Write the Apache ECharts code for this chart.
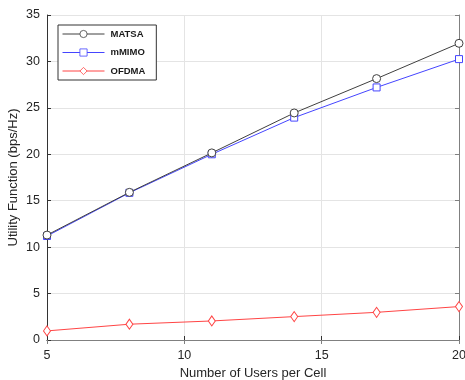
<!DOCTYPE html>
<html>
<head>
<meta charset="utf-8">
<script src="https://cdn.jsdelivr.net/npm/echarts@6/dist/echarts.min.js"></script>
<style>
  html, body { margin: 0; padding: 0; background: #fff; }
  #chart { width: 465px; height: 380px; }
</style>
</head>
<body>
<div id="chart"></div>
<script>
// Users per cell (x positions of the samples)
var users = [5, 8, 11, 14, 17, 20];
// Utility function values (bps/Hz)
var matsa = [11.3, 15.9, 20.15, 24.45, 28.15, 31.95];
var mmimo = [11.2, 15.85, 20.0, 23.95, 27.2, 30.25];
var ofdma = [0.98, 1.7, 2.05, 2.52, 2.98, 3.6];

var seriesNames = ['MATSA', 'mMIMO', 'OFDMA'];
var seriesColors = ['#404040', '#4545ff', '#ff4545'];
// hollow markers: white fill with a thin coloured outline
var seriesSymbols = ['circle', 'rect', 'diamond'];
var seriesSizes = [8, 7, [7, 10]];
var seriesData = [matsa, mmimo, ofdma];

var xTicks = { min: 5, max: 20, interval: 5 };
var yTicks = { min: 0, max: 35, interval: 5 };

var font = 'Liberation Sans, Arial, sans-serif';
var axisDark = '#333333';
var axisLight = '#808080';

function pairs(xs, ys) {
  return xs.map(function (x, i) { return [x, ys[i]]; });
}

var chart = echarts.init(document.getElementById('chart'), null, { renderer: 'canvas' });

var option = {
  animation: false,
  backgroundColor: '#ffffff',
  textStyle: { fontFamily: font },
  grid: { left: 47, right: 6, top: 15, bottom: 40, containLabel: false, outerBoundsMode: 'none' },
  legend: {
    orient: 'vertical',
    left: 58,
    top: 25,
    data: seriesNames,
    itemWidth: 42,
    itemHeight: 9,
    itemGap: 8.5,
    padding: [4, 11, 4, 4],
    borderColor: '#333333',
    borderWidth: 1,
    backgroundColor: '#ffffff',
    itemStyle: { borderWidth: 0.8 },
    lineStyle: { width: 1 },
    textStyle: { fontFamily: font, fontSize: 9.5, fontWeight: 'bold', color: '#1a1a1a', padding: [0, 0, 0, 1] }
  },
  xAxis: [{
    type: 'value',
    position: 'bottom',
    min: xTicks.min, max: xTicks.max, interval: xTicks.interval,
    name: 'Number of Users per Cell',
    nameLocation: 'middle',
    nameGap: 27,
    nameMoveOverlap: false,
    nameTextStyle: { fontFamily: font, fontSize: 13, color: '#262626' },
    axisLine: { show: true, lineStyle: { color: axisDark, width: 1 } },
    axisTick: { show: true, inside: true, length: 4, lineStyle: { color: axisDark } },
    axisLabel: { fontFamily: font, fontSize: 12.5, color: '#262626', margin: 9 },
    splitLine: { show: true, lineStyle: { color: '#e4e4e4', width: 1 } }
  }, {
    type: 'value',
    position: 'top',
    min: xTicks.min, max: xTicks.max, interval: xTicks.interval,
    axisLine: { show: true, lineStyle: { color: axisLight, width: 1 } },
    axisTick: { show: true, inside: true, length: 4, lineStyle: { color: axisLight } },
    axisLabel: { show: false },
    splitLine: { show: false }
  }],
  yAxis: [{
    type: 'value',
    position: 'left',
    min: yTicks.min, max: yTicks.max, interval: yTicks.interval,
    name: 'Utility Function (bps/Hz)',
    nameLocation: 'middle',
    nameGap: 27,
    nameMoveOverlap: false,
    nameTextStyle: { fontFamily: font, fontSize: 13, color: '#262626' },
    axisLine: { show: true, lineStyle: { color: axisDark, width: 1 } },
    axisTick: { show: true, inside: true, length: 4, lineStyle: { color: axisDark } },
    axisLabel: { fontFamily: font, fontSize: 12.5, color: '#262626', margin: 7 },
    splitLine: { show: true, lineStyle: { color: '#e4e4e4', width: 1 } }
  }, {
    type: 'value',
    position: 'right',
    min: yTicks.min, max: yTicks.max, interval: yTicks.interval,
    axisLine: { show: true, lineStyle: { color: axisLight, width: 1 } },
    axisTick: { show: true, inside: true, length: 4, lineStyle: { color: axisLight } },
    axisLabel: { show: false },
    splitLine: { show: false }
  }],
  series: seriesNames.map(function (name, i) {
    return {
      name: name,
      type: 'line',
      xAxisIndex: 0,
      yAxisIndex: 0,
      data: pairs(users, seriesData[i]),
      symbol: seriesSymbols[i],
      symbolSize: seriesSizes[i],
      showAllSymbol: true,
      clip: false,
      z: 3 - i + 2,
      lineStyle: { color: seriesColors[i], width: 1 },
      itemStyle: { color: '#ffffff', borderColor: seriesColors[i], borderWidth: 1 },
      emphasis: { disabled: true }
    };
  })
};

chart.setOption(option);
</script>
</body>
</html>
